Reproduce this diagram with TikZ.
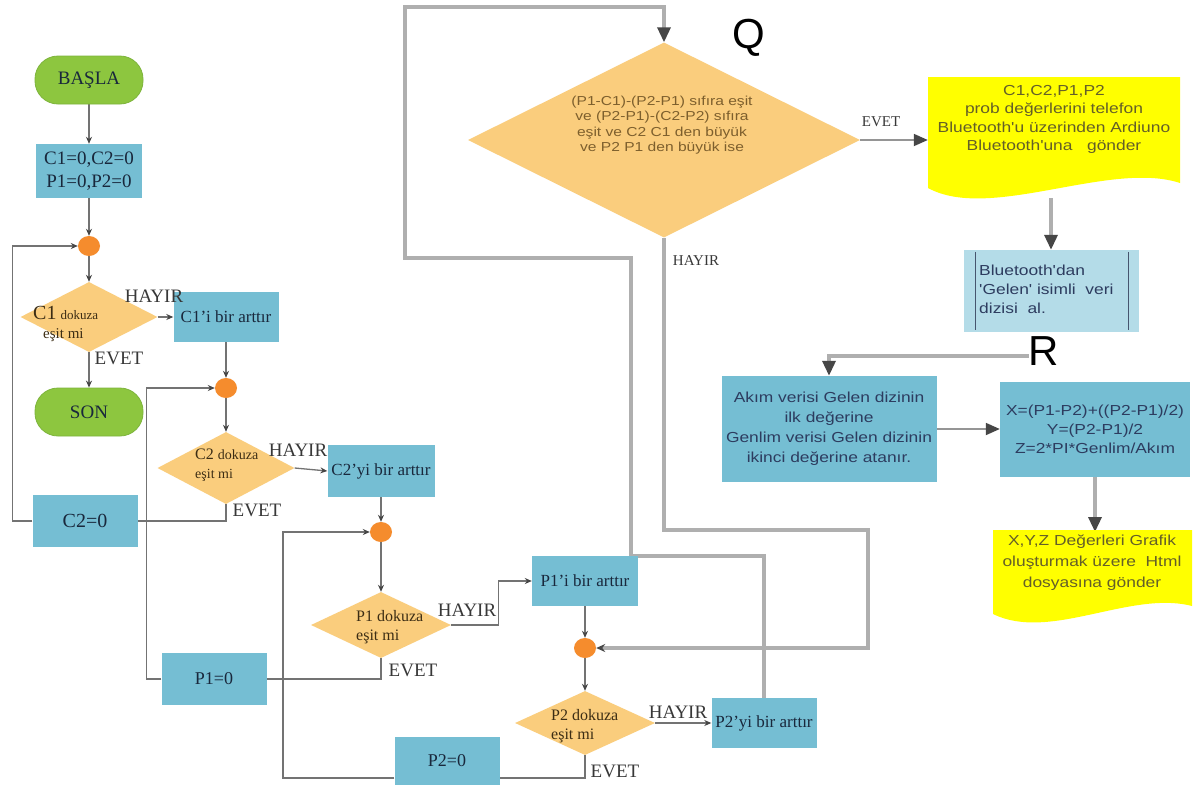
\documentclass[tikz,border=0pt]{standalone}
\usepackage{fontspec}
\setmainfont{Liberation Serif}
\newfontfamily\rsans{Liberation Sans}[FakeStretch=1.2]
\newfontfamily\bsans{Liberation Sans}
\usetikzlibrary{shapes.geometric,arrows.meta,backgrounds}
\newcommand{\fsz}[1]{\fontsize{#1}{#1}\selectfont}
\newcommand{\fszl}[2]{\fontsize{#1}{#2}\selectfont}
\definecolor{gfill}{RGB}{141,198,63}
\definecolor{gdraw}{RGB}{125,180,60}
\definecolor{bfill}{RGB}{117,190,211}
\definecolor{lbfill}{RGB}{180,220,232}
\definecolor{dfill}{RGB}{250,205,125}
\definecolor{ofill}{RGB}{245,140,45}
\definecolor{yfill}{RGB}{255,255,0}
\definecolor{lline}{RGB}{115,115,115}
\definecolor{rline}{RGB}{175,175,175}
\definecolor{atip}{RGB}{70,70,70}
\definecolor{ltext}{RGB}{25,40,60}
\definecolor{dtextc}{RGB}{60,45,20}
\definecolor{qtext}{RGB}{125,95,45}
\definecolor{ytext}{RGB}{100,95,40}
\definecolor{btext}{RGB}{45,60,95}
\definecolor{ppl}{RGB}{70,85,110}
\begin{document}
\begin{tikzpicture}[x=1pt,y=-1pt,
  term/.style={rectangle, rounded corners=23pt, fill=gfill, draw=gdraw, line width=0.8pt,
    minimum width=108pt, minimum height=48pt, inner sep=0pt, text=ltext, font=\fsz{19}},
  proc/.style={rectangle, fill=bfill, inner sep=0pt, text=ltext, font=\fsz{17}, align=center},
  rproc/.style={rectangle, fill=bfill, inner sep=0pt, text=btext, font=\rsans\fszl{14.5}{20}, align=center},
  dec/.style={diamond, fill=dfill, inner sep=0pt, aspect=2},
  dtext/.style={inner sep=0pt, text=dtextc, font=\fszl{16}{19}, align=left},
  joint/.style={ellipse, fill=ofill, minimum width=22pt, minimum height=20pt, inner sep=0pt},
  lbl/.style={text=black!78, font=\fsz{19}, inner sep=0pt},
  lflow/.style={draw=lline, line width=1.3pt},
  larr/.style={lflow, -{Stealth[length=7pt,width=6pt,color=atip]}},
  rflow/.style={draw=rline, line width=3.3pt},
  rarr/.style={rflow, -{Triangle[length=15pt,width=13pt,color=atip]}},
  rarrs/.style={rflow, -{Stealth[length=9pt,width=8pt,color=atip]}},
  tarr/.style={draw=rline!85!black, line width=1.8pt, -{Triangle[length=14pt,width=12pt,color=atip]}},
  ytxt/.style={inner sep=0pt, inner ysep=3pt, text=ytext, font=\rsans\fszl{14.5}{18.5}, align=center},
  qtxt/.style={inner sep=0pt, text=qtext, font=\rsans\fszl{13}{15.5}, align=center},
  biglbl/.style={inner sep=0pt, font=\bsans\fsz{42}, text=black}
]
\begin{pgfonlayer}{background}
\fill[white] (0,0) rectangle (1198,790);
\end{pgfonlayer}
\useasboundingbox (0,0) rectangle (1198,790);

% ---------- left part ----------
\node[term] (basla) at (89,80) {BAŞLA};
\node[proc, minimum width=106pt, minimum height=54pt, font=\fszl{19}{23}] (init) at (89,171) {C1=0,C2=0\\P1=0,P2=0};
\node[joint] (c1) at (89,246) {};
\node[dec, minimum width=137pt, minimum height=70pt] (d1) at (89,317) {};
\node[dtext, anchor=west] (d1t) at (33,324) {{\fsz{20}C1} {\fsz{13}dokuza}\\\hspace*{10pt}{\fsz{15}eşit mi}};
\node[proc, minimum width=105pt, minimum height=50pt] (inc1) at (226,317) {C1'i bir arttır};
\node[term] (son) at (89,412) {SON};
\node[proc, minimum width=105pt, minimum height=52pt, font=\fsz{20}] (c2z) at (85,521) {C2=0};
\node[joint] (c2) at (226,388) {};
\node[dec, minimum width=137pt, minimum height=72pt] (d2) at (226,468) {};
\node[dtext, anchor=west] (d2t) at (195,465) {{\fsz{16}C2} {\fsz{14}dokuza}\\{\fsz{14}eşit mi}};
\node[proc, minimum width=107pt, minimum height=52pt] (inc2) at (381,471) {C2'yi bir arttır};
\node[joint] (c3) at (381,532) {};
\node[dec, minimum width=140pt, minimum height=66pt] (d3) at (381,625) {};
\node[dtext, anchor=west] (d3t) at (356,627) {P1 dokuza\\eşit mi};
\node[proc, minimum width=105pt, minimum height=52pt, font=\fsz{18}] (p1z) at (214,679) {P1=0};
\node[proc, minimum width=106pt, minimum height=50pt] (inc3) at (585,581) {P1'i bir arttır};
\node[joint] (c4) at (585,648) {};
\node[dec, minimum width=140pt, minimum height=64pt] (d4) at (585,723) {};
\node[dtext, anchor=west] (d4t) at (551,726) {P2 dokuza\\eşit mi};
\node[proc, minimum width=105pt, minimum height=50pt] (inc4) at (764,723) {P2'yi bir arttır};
\node[proc, minimum width=105pt, minimum height=48pt, font=\fsz{18}] (p2z) at (447,761) {P2=0};

\node[lbl] (h1) at (154,296) {HAYIR};
\node[lbl] (e1) at (119,358) {EVET};
\node[lbl] (h2) at (298,450) {HAYIR};
\node[lbl] (e2) at (257,510) {EVET};
\node[lbl] (h3) at (467,610) {HAYIR};
\node[lbl] (e3) at (413,670) {EVET};
\node[lbl] (h4) at (678,712) {HAYIR};
\node[lbl] (e4) at (615,771) {EVET};

% ---------- right part ----------
\node[dec, minimum width=392pt, minimum height=195pt] (q) at (664,140) {};
\node[qtxt] (qt) at (662,125) {(P1-C1)-(P2-P1) sıfıra eşit\\ve (P2-P1)-(C2-P2) sıfıra\\eşit ve C2 C1 den büyük\\ve P2 P1 den büyük ise};
\node[biglbl] (qlab) at (749,38) {Q};
\node[lbl, font=\fsz{15}] (eq) at (881,122) {EVET};
\node[lbl, font=\fsz{15}] (hq) at (696,261) {HAYIR};

\fill[yfill] (928,77) -- (1180,77) -- (1180,183) .. controls (1110,160) and (990,222) .. (928,188) -- cycle;
\node[ytxt, anchor=north, minimum width=252pt] (doc1) at (1054,82) {C1,C2,P1,P2\\prob değerlerini telefon\\Bluetooth'u üzerinden Ardiuno\\Bluetooth'una\ \ \ gönder};
\coordinate (doc1b) at (1051,198);

\node[fill=lbfill, inner sep=0pt, minimum width=175pt, minimum height=82pt] (pp) at (1051,291) {};
\draw[ppl, line width=1.5pt] ([xshift=12pt,yshift=-2pt]pp.north west) -- ([xshift=12pt,yshift=2pt]pp.south west);
\draw[ppl, line width=1.5pt] ([xshift=-10pt,yshift=-2pt]pp.north east) -- ([xshift=-10pt,yshift=2pt]pp.south east);
\node[inner sep=0pt, anchor=west, align=left, text=btext, font=\rsans\fszl{14.5}{19}] (ppt) at (979,289) {Bluetooth'dan\\'Gelen' isimli\ \ veri\\dizisi\ \ al.};

\node[biglbl] (rlab) at (1044,351) {R};
\node[rproc, minimum width=215pt, minimum height=106pt] (akim) at (829,429) {Akım verisi Gelen dizinin\\ilk değerine\\Genlim verisi Gelen dizinin\\ikinci değerine atanır.};
\node[rproc, minimum width=190pt, minimum height=95pt, font=\rsans\fszl{14.5}{19}] (form) at (1095,429) {X=(P1-P2)+((P2-P1)/2)\\Y=(P2-P1)/2\\Z=2*PI*Genlim/Akım};

\fill[yfill] (993,530) -- (1192,530) -- (1192,606) .. controls (1130,590) and (1050,642) .. (993,614) -- cycle;
\node[ytxt, anchor=north, minimum width=199pt, font=\rsans\fszl{14.5}{21}] (doc2) at (1092,532) {X,Y,Z Değerleri Grafik\\oluşturmak üzere\ \ Html\\dosyasına gönder};

% ---------- connectors ----------
\begin{pgfonlayer}{background}
\draw[larr] (basla) -- (init);
\draw[larr] (init) -- (c1);
\draw[larr] (c1) -- (d1);
\draw[larr] (d1.east) -- (inc1.west);
\draw[larr] (d1.south) -- (son.north);
\draw[larr] (inc1.south) -- (c2);
\draw[larr] (c2) -- (d2);
\draw[larr] (d2.east) -- (inc2.west);
\draw[lflow] (d2.south) |- (c2z.east);
\draw[larr] (c2z.west) -- ++(-20,0) |- (c1.west);
\draw[larr] (inc2.south) -- (c3);
\draw[larr] (c3) -- (d3);
\draw[larr] (d3.east) -- ++(47,0) |- (inc3.west);
\draw[lflow] (d3.south) |- (p1z.east);
\draw[larr] (p1z.west) -- ++(-15,0) |- (c2.west);
\draw[larr] (inc3.south) -- (c4);
\draw[larr] (c4) -- (d4);
\draw[larr] (d4.east) -- (inc4.west);
\draw[lflow] (d4.south) |- ([yshift=-17pt]p2z.east);
\draw[larr] ([yshift=-17pt]p2z.west) -- (283,778) |- (c3.west);

\draw[rarr] (inc4.north) |- (631,556) -- (631,258) -- (405,258) -- (405,7) -| (q.north);
\draw[rarrs] (q.south) |- (868,530) -- (868,648) -- (c4.east);
\draw[tarr] (q.east) -- (q.east -| doc1.west);
\draw[rarr] (doc1b) -- (pp.north);
\draw[rarr] ([yshift=-5pt]rlab.west) -| (akim.north);
\draw[tarr] (akim.east) -- (form.west);
\draw[rarr] (form.south) -- (form.south |- doc2.north);
\end{pgfonlayer}
\end{tikzpicture}
\end{document}
